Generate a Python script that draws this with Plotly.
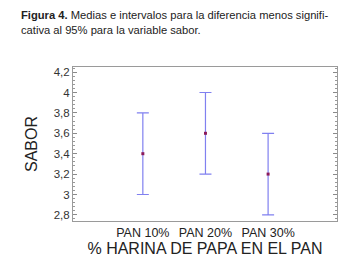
import plotly.graph_objects as go

categories = ["PAN 10%", "PAN 20%", "PAN 30%"]
means = [3.4, 3.6, 3.2]
lower = [3.0, 3.2, 2.8]
upper = [3.8, 4.0, 3.6]
y_ticks = [2.8, 3.0, 3.2, 3.4, 3.6, 3.8, 4.0, 4.2]

err_plus = [u - m for u, m in zip(upper, means)]
err_minus = [m - l for m, l in zip(means, lower)]

sans = "Liberation Sans, Arial, sans-serif"

fig = go.Figure()
fig.add_trace(go.Scatter(
    x=list(range(len(categories))), y=means, mode="markers",
    marker=dict(symbol="square", size=3, color="#8b1a5a"),
    error_y=dict(type="data", symmetric=False, array=err_plus, arrayminus=err_minus,
                 color="#8080f0", thickness=1.2, width=6),
    showlegend=False,
))

fig.update_layout(
    width=353, height=269,
    margin=dict(l=65, r=24, t=59, b=56),
    paper_bgcolor="white", plot_bgcolor="white",
    separators=",.",
    xaxis=dict(
        range=[-1.115, 3.1], tickvals=list(range(len(categories))), ticktext=categories,
        showgrid=False, zeroline=False, showline=True, linecolor="#9a9a9a", linewidth=1,
        mirror=True, ticks="", tickfont=dict(family=sans, size=12.5, color="#222"),
        automargin=False,
        title=dict(text="% HARINA DE PAPA EN EL PAN", font=dict(family=sans, size=16, color="#222"), standoff=0),
    ),
    yaxis=dict(
        range=[2.74, 4.25], tickvals=y_ticks, automargin=False,
        showgrid=False, zeroline=False, showline=True, linecolor="#9a9a9a", linewidth=1,
        mirror="ticks", ticks="inside", ticklen=4, tickcolor="#8a8a8a",
        minor=dict(ticks="inside", ticklen=2, dtick=0.04, tickcolor="#999999", showgrid=False),
        tickfont=dict(family=sans, size=11.5, color="#333"),
        title=dict(text="SABOR", font=dict(family=sans, size=16, color="#222"), standoff=12),
    ),
)

fig.add_annotation(
    xref="paper", yref="paper", x=-0.205, y=1.19, xanchor="left", yanchor="bottom",
    showarrow=False, align="left",
    text="<b>Figura 4.</b> Medias e intervalos para la diferencia menos signifi-<br>cativa al 95% para la variable sabor.",
    font=dict(family=sans, size=11.2, color="#222"),
)

fig.write_html("out.html")
